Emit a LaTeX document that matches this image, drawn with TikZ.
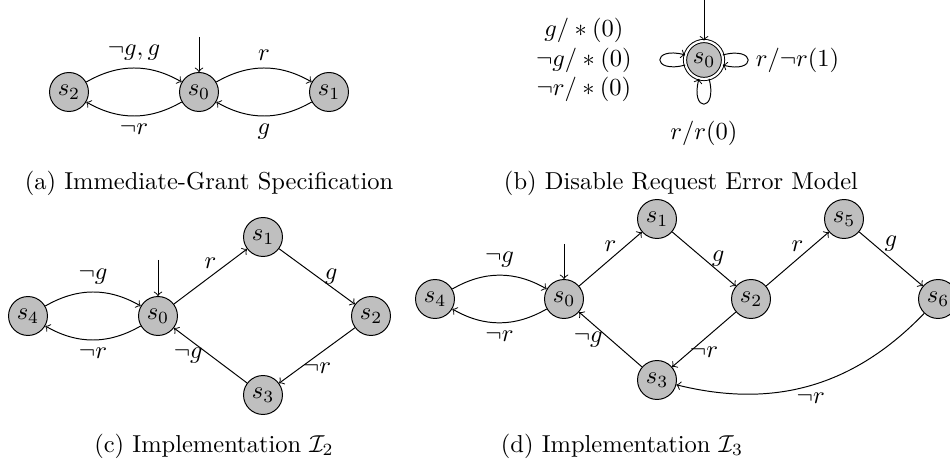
\documentclass[tikz,border=0pt]{standalone}
\usepackage{amsmath,amssymb}
\begin{document}
\begin{tikzpicture}[x=0.40816pt,y=-0.40816pt,
  stnode/.style={circle,draw,fill=gray!50,minimum size=15.9pt,inner sep=0pt},
  accnode/.style={stnode,minimum size=15.5pt,double,double distance=0.9pt},
  tr/.style={->,line width=0.4pt},
  lbl/.style={inner sep=3pt}]
\useasboundingbox (0,0) rectangle (950,465);

% (a) Immediate-Grant specification
\node[stnode] (a2) at (69,92) {$s_2$};
\node[stnode] (a0) at (199,92) {$s_0$};
\node[stnode] (a1) at (329,92) {$s_1$};
\coordinate (a0i) at (199,37);
\draw[tr] (a0i) -- (a0);
\draw[tr] (a2) to[bend left] node[lbl,above] {$\neg g, g$} (a0);
\draw[tr] (a0) to[bend left] node[lbl,below] {$\neg r$} (a2);
\draw[tr] (a0) to[bend left] node[lbl,above] {$r$} (a1);
\draw[tr] (a1) to[bend left] node[lbl,below] {$g$} (a0);
\node (capa) at (209,183) {(a) Immediate-Grant Specification};

% (b) Disable request error model
\node[accnode] (b0) at (704,60) {$s_0$};
\coordinate (b0i) at (704,-4);
\draw[tr] (b0i) -- (b0);
\draw[tr] (b0) to[loop left] node[left=8pt,align=center] {$g/*(0)$\\$\neg g/*(0)$\\$\neg r/*(0)$} (b0);
\draw[tr] (b0) to[loop right] node[lbl,right] {$r/\neg r(1)$} (b0);
\draw[tr] (b0) to[loop below] node[below=3.5pt] {$r/r(0)$} (b0);
\node (capb) at (681,183) {(b) Disable Request Error Model};

% (c) Implementation I2
\node[stnode] (c4) at (28,316) {$s_4$};
\node[stnode] (c0) at (158,316) {$s_0$};
\node[stnode] (c1) at (263,237) {$s_1$};
\node[stnode] (c2) at (371,316) {$s_2$};
\node[stnode] (c3) at (263,395) {$s_3$};
\coordinate (c0i) at (158,260);
\draw[tr] (c0i) -- (c0);
\draw[tr] (c4) to[bend left] node[lbl,above] {$\neg g$} (c0);
\draw[tr] (c0) to[bend left] node[lbl,below] {$\neg r$} (c4);
\draw[tr] (c0) -- node[lbl,above] {$r$} (c1);
\draw[tr] (c1) -- node[lbl,right] {$g$} (c2);
\draw[tr] (c2) -- node[lbl,below] {$\neg r$} (c3);
\draw[tr] (c3) -- node[lbl,left] {$\neg g$} (c0);
\node (capc) at (214,446) {(c) Implementation $\mathcal{I}_2$};

% (d) Implementation I3
\node[stnode] (d4) at (435,299) {$s_4$};
\node[stnode] (d0) at (564,299) {$s_0$};
\node[stnode] (d1) at (657,219) {$s_1$};
\node[stnode] (d2) at (751,299) {$s_2$};
\node[stnode] (d5) at (844,219) {$s_5$};
\node[stnode] (d6) at (938,299) {$s_6$};
\node[stnode] (d3) at (657,380) {$s_3$};
\coordinate (d0i) at (564,244);
\draw[tr] (d0i) -- (d0);
\draw[tr] (d4) to[bend left] node[lbl,above] {$\neg g$} (d0);
\draw[tr] (d0) to[bend left] node[lbl,below] {$\neg r$} (d4);
\draw[tr] (d0) -- node[lbl,above] {$r$} (d1);
\draw[tr] (d1) -- node[lbl,right] {$g$} (d2);
\draw[tr] (d2) -- node[lbl,above] {$r$} (d5);
\draw[tr] (d5) -- node[lbl,above] {$g$} (d6);
\draw[tr] (d2) -- node[lbl,below] {$\neg r$} (d3);
\draw[tr] (d3) -- node[lbl,left] {$\neg g$} (d0);
\draw[tr] (d6) to[bend left=30] node[lbl,below] {$\neg r$} (d3);
\node (capd) at (622,446) {(d) Implementation $\mathcal{I}_3$};
\end{tikzpicture}
\end{document}
